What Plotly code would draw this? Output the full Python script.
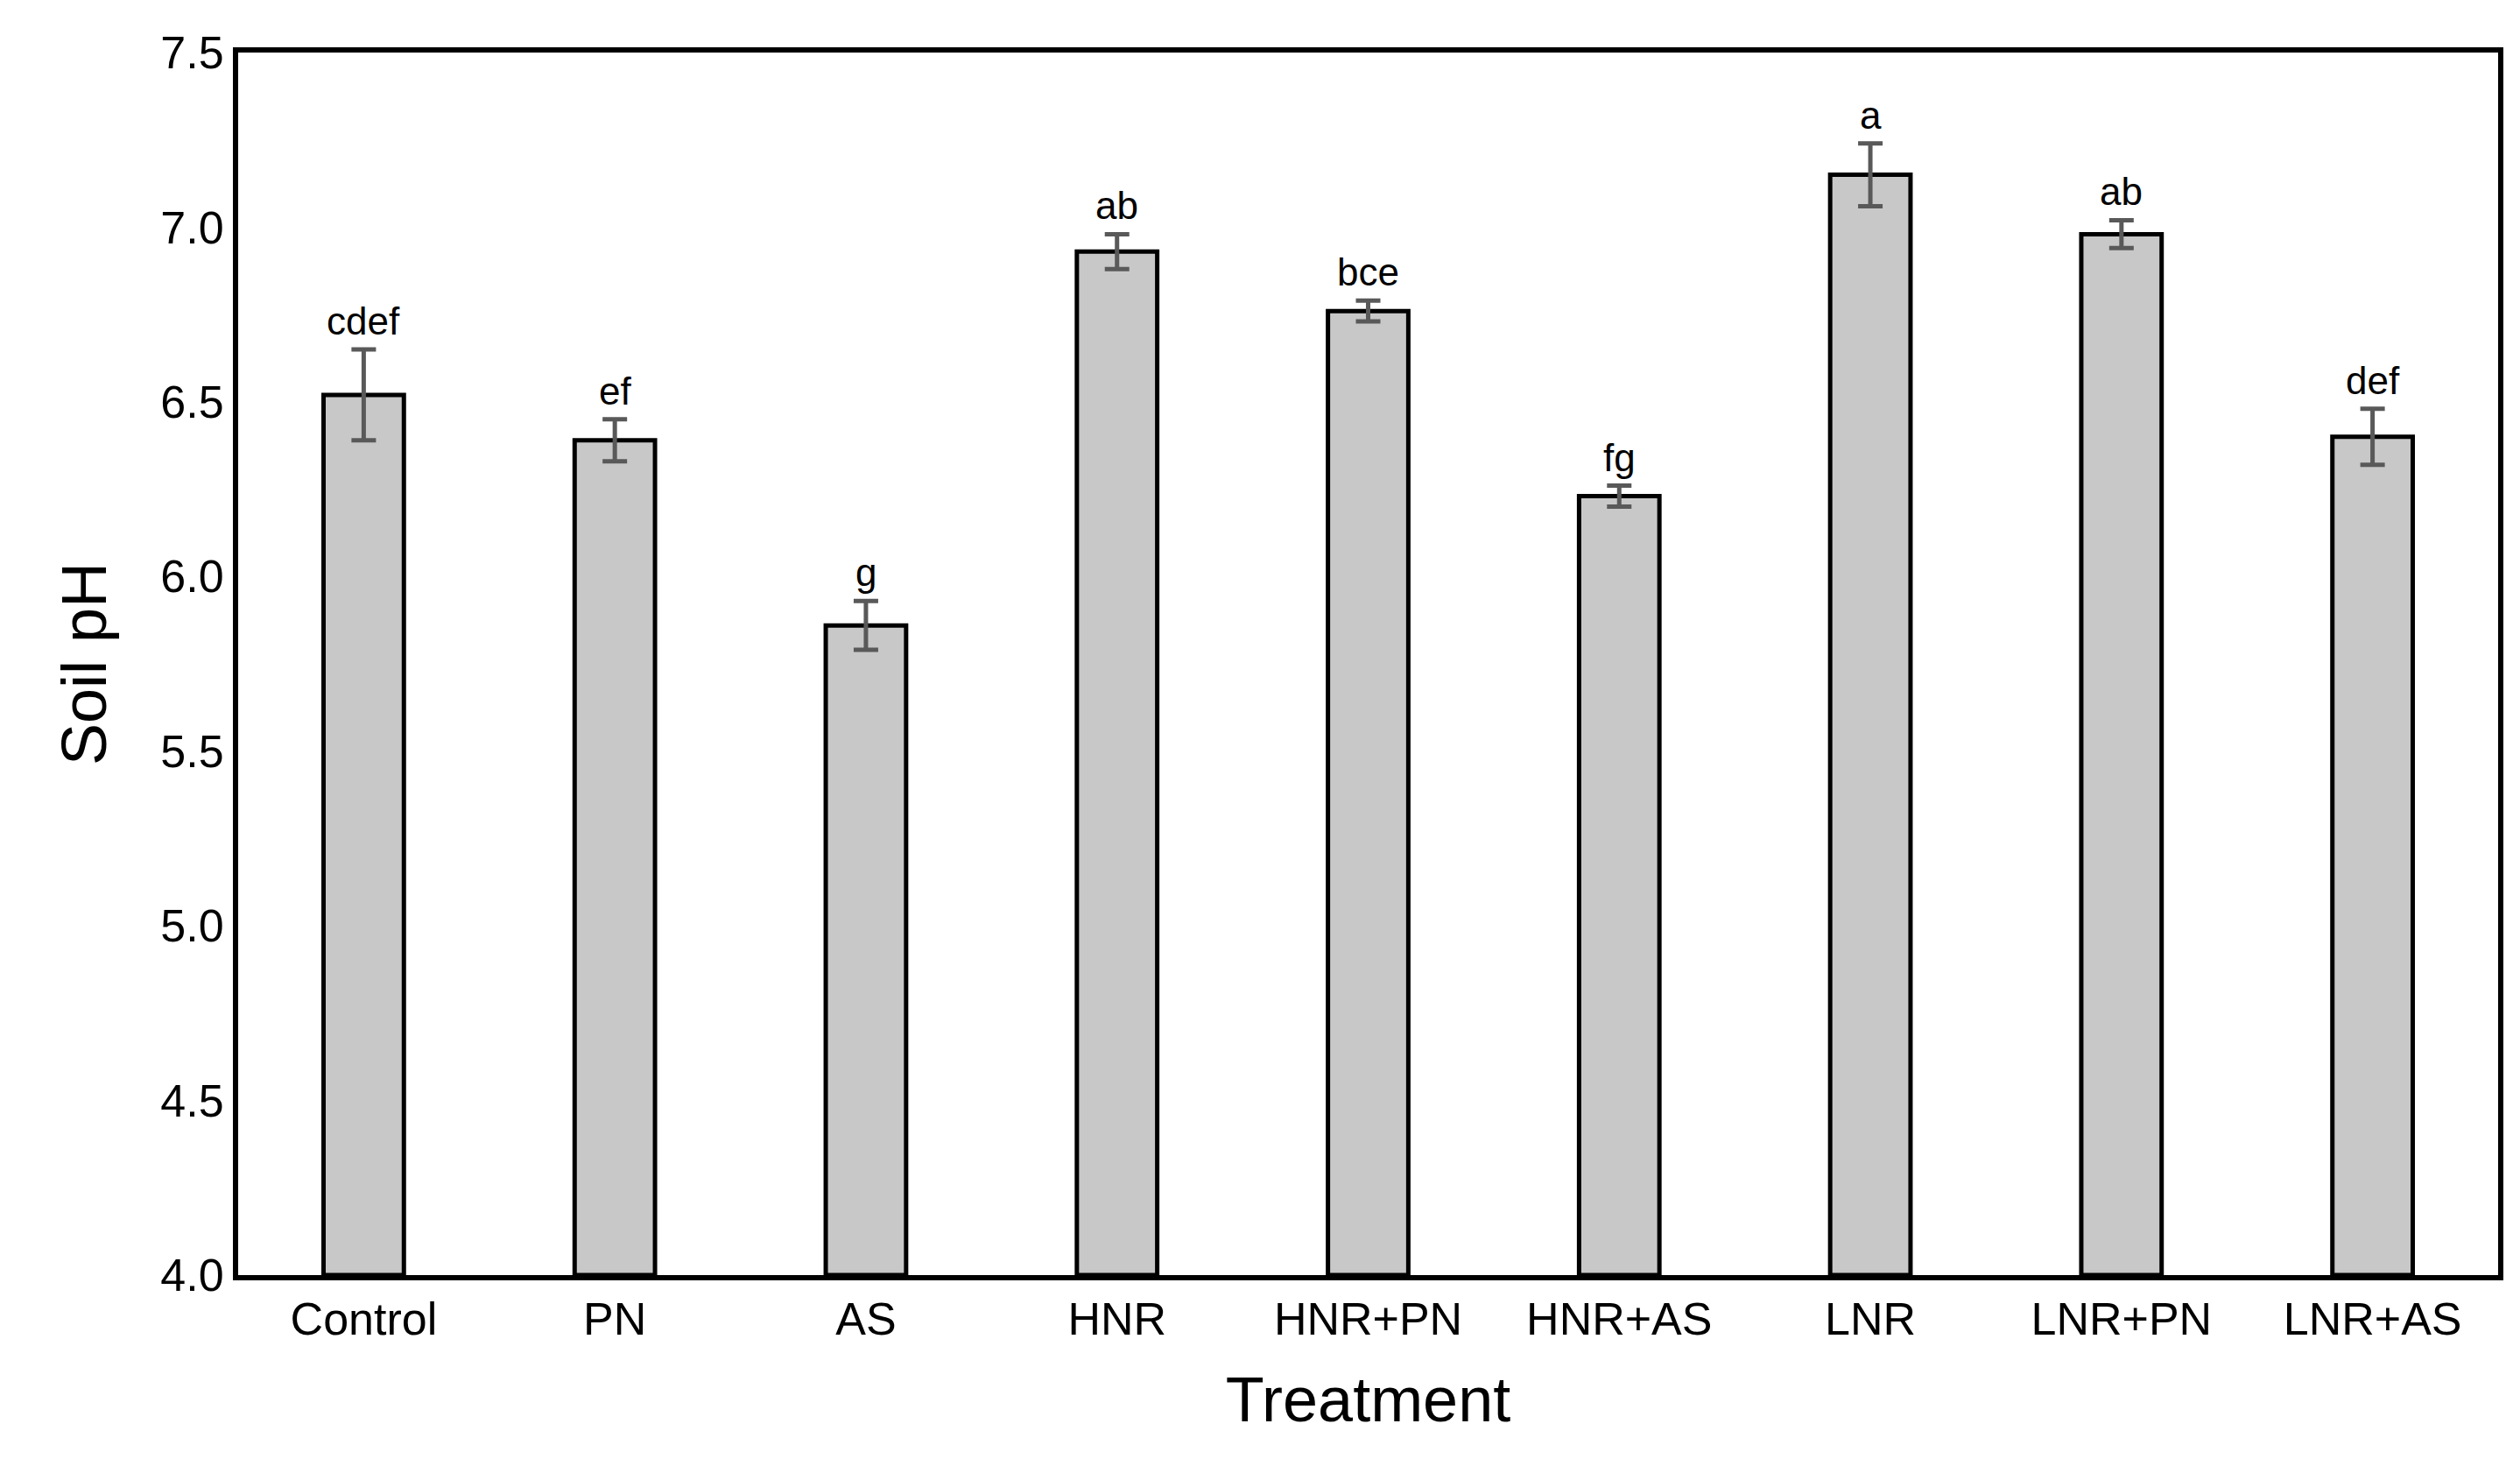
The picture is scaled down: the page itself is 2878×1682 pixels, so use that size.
import plotly.graph_objects as go

treatments = ['Control', 'PN', 'AS', 'HNR', 'HNR+PN', 'HNR+AS', 'LNR', 'LNR+PN', 'LNR+AS']
ph = [6.52, 6.39, 5.86, 6.93, 6.76, 6.23, 7.15, 6.98, 6.40]
err = [0.13, 0.06, 0.07, 0.05, 0.03, 0.03, 0.09, 0.04, 0.08]
letters = ['cdef', 'ef', 'g', 'ab', 'bce', 'fg', 'a', 'ab', 'def']

fig = go.Figure()
fig.add_trace(go.Bar(
    x=treatments, y=[v - 4.0 for v in ph], base=4.0,
    width=0.32,
    marker=dict(color='#c8c8c8', line=dict(color='black', width=5)),
    error_y=dict(type='data', array=err, color='#595959', thickness=5, width=14),
))

for t, v, e, l in zip(treatments, ph, err, letters):
    fig.add_annotation(x=t, y=v + e, text=l, showarrow=False, yanchor='bottom', yshift=6,
                       font=dict(size=44, color='black', family='Arial, Liberation Sans'))

fig.update_layout(
    width=2878, height=1682,
    margin=dict(l=264, r=33, t=52, b=234),
    plot_bgcolor='white', paper_bgcolor='white',
    showlegend=False,
    font=dict(family='Arial, Liberation Sans', color='black', size=52),
    xaxis=dict(title=dict(text='Treatment', font=dict(size=72), standoff=40),
               showline=True, linecolor='black', linewidth=6, mirror=True,
               ticks='', tickfont=dict(size=52)),
    yaxis=dict(title=dict(text='Soil pH', font=dict(size=72), standoff=40),
               range=[4.0, 7.5], dtick=0.5, tickformat='.1f',
               showline=True, linecolor='black', linewidth=6, mirror=True,
               showgrid=False, zeroline=False, ticks='', tickfont=dict(size=52)),
)

fig.write_html("out.html")
